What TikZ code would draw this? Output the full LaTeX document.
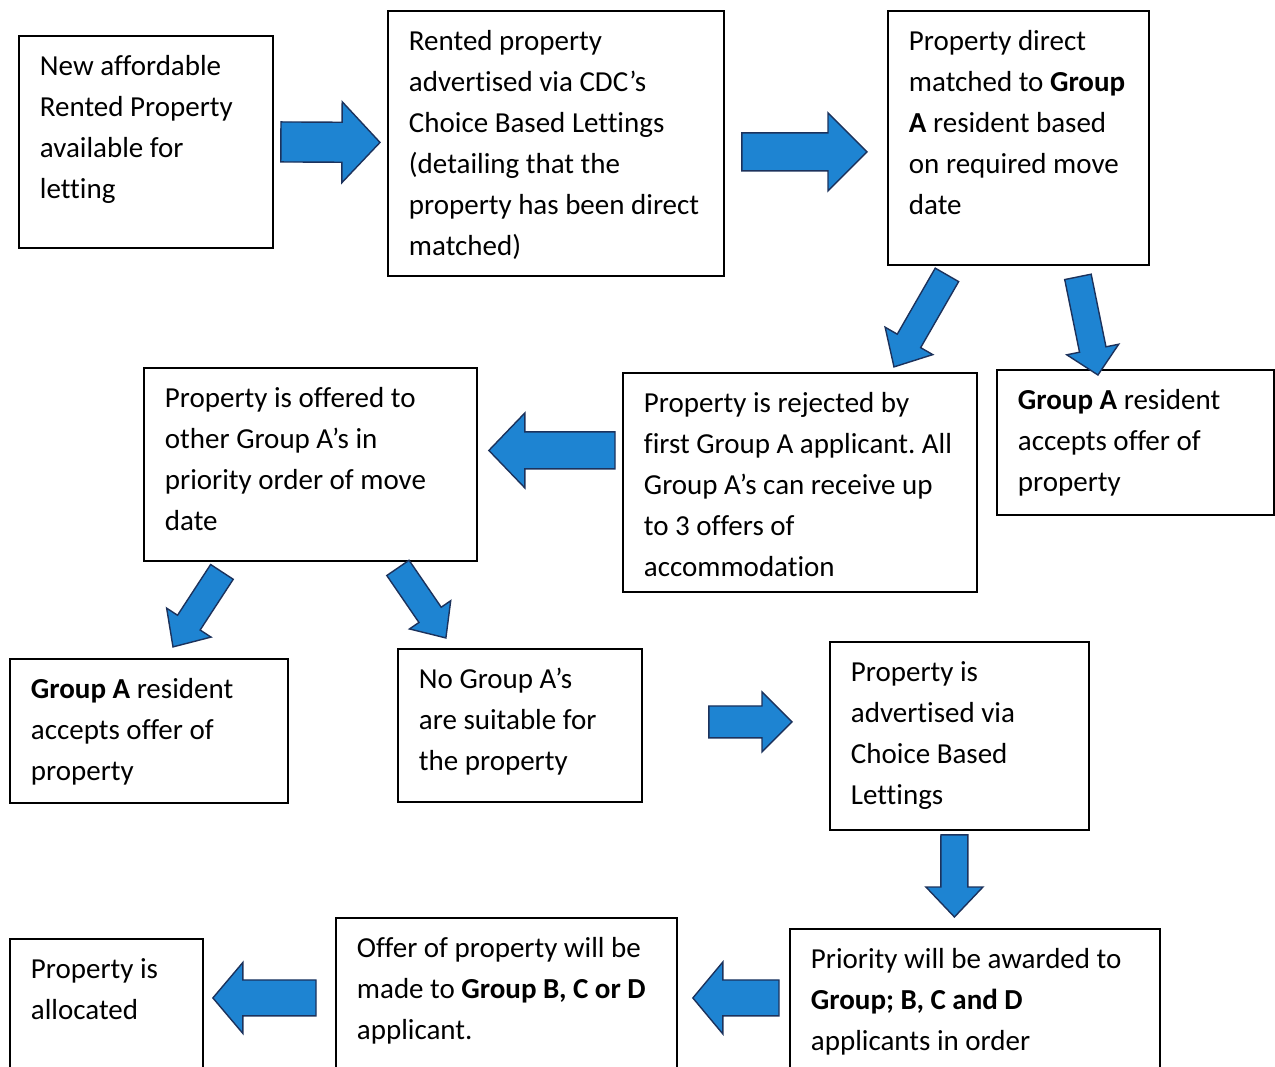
\documentclass[tikz,border=0pt]{standalone}
\usepackage{fontspec}
\setmainfont{Carlito}[Ligatures=CommonOff]
\usepackage{xcolor}
\usetikzlibrary{calc}

\definecolor{arrowblue}{RGB}{30,132,210}
\definecolor{arrowedge}{RGB}{28,50,92}

\tikzset{
  stepbox/.style={draw=black, line width=1.1pt, fill=white, anchor=north west, inner sep=0pt},
  flowarrow/.style={fill=arrowblue, draw=arrowedge, line width=0.8pt, line join=miter}
}

% text of a box: width, height, lines
\newcommand{\boxlines}[3]{\parbox[c][#2][t]{#1}{\raggedright\frenchspacing\leftskip=0.42cm\rule{0pt}{22.6pt}#3}}

% block arrow: tail, tip, shaft width, head width, head length (px)
\newcommand{\blockarrow}[5]{%
  \draw[flowarrow] let \p1=(#1), \p2=(#2),
      \n1={atan2(\y2-\y1,\x2-\x1)},
      \n2={veclen(\x2-\x1,\y2-\y1)} in
    [shift={(\p1)}, rotate=\n1]
    (0pt,{#3*0.28453pt}) -- ({\n2-#5*0.56906pt},{#3*0.28453pt})
    -- ({\n2-#5*0.56906pt},{#4*0.28453pt}) -- (\n2,0pt)
    -- ({\n2-#5*0.56906pt},{-#4*0.28453pt}) -- ({\n2-#5*0.56906pt},{-#3*0.28453pt})
    -- (0pt,{-#3*0.28453pt}) -- cycle;
}

\begin{document}
\begin{tikzpicture}[x=0.02cm, y=-0.02cm, font=\fontsize{16.5}{23.3}\selectfont]
  \clip (0,0) rectangle (1275,1067);

  \node[stepbox] (new) at (18,35) {\boxlines{5.08cm}{4.24cm}{New affordable\\ Rented Property\\ available for\\ letting}};
  \node[stepbox] (advert) at (387,10) {\boxlines{6.72cm}{5.3cm}{Rented property\\ advertised via CDC’s\\ Choice Based Lettings\\ (detailing that the\\ property has been direct\\ matched)}};
  \node[stepbox] (direct) at (887,10) {\boxlines{5.22cm}{5.08cm}{Property direct\\ matched to \textbf{Group}\\ \textbf{A} resident based\\ on required move\\ date}};
  \node[stepbox] (offered) at (143,367) {\boxlines{6.66cm}{3.86cm}{Property is offered to\\ other Group A’s in\\ priority order of move\\ date}};
  \node[stepbox] (rejected) at (622,372) {\boxlines{7.08cm}{4.38cm}{Property is rejected by\\ first Group A applicant. All\\ Group A’s can receive up\\ to 3 offers of\\ accommodation}};
  \node[stepbox] (acceptA) at (996,369) {\boxlines{5.54cm}{2.9cm}{\textbf{Group A} resident\\ accepts offer of\\ property}};
  \node[stepbox] (acceptB) at (9,658) {\boxlines{5.56cm}{2.88cm}{\textbf{Group A} resident\\ accepts offer of\\ property}};
  \node[stepbox] (nosuit) at (397,648) {\boxlines{4.88cm}{3.06cm}{No Group A’s\\ are suitable for\\ the property}};
  \node[stepbox] (cbl) at (829,641) {\boxlines{5.18cm}{3.76cm}{Property is\\ advertised via\\ Choice Based\\ Lettings}};
  \node[stepbox] (alloc) at (9,938) {\boxlines{3.86cm}{3.2cm}{Property is\\ allocated}};
  \node[stepbox] (offer) at (335,917) {\boxlines{6.82cm}{3.6cm}{Offer of property will be\\ made to \textbf{Group B, C or D}\\ applicant.}};
  \node[stepbox] (priority) at (789,928) {\boxlines{7.4cm}{3.4cm}{Priority will be awarded to\\ \textbf{Group; B, C and D}\\ applicants in order}};

  \blockarrow{$(new.east)+(7,0)$}{$(advert.west)+(-7,-1)$}{40}{81}{38}
  \blockarrow{$(advert.east)+(17,8.5)$}{$(direct.west)+(-20,14)$}{38}{78}{39}
  \blockarrow{$(direct.south)+(-71.5,9)$}{$(rejected.north)+(94,-5)$}{27}{55}{30}
  \blockarrow{$(direct.south)+(59.5,11)$}{$(acceptA.north)+(-37.5,6)$}{27}{53}{26}
  \blockarrow{$(rejected.west)+(-7,-32)$}{$(offered.east)+(11,-14)$}{37}{75}{36}
  \blockarrow{$(offered.south)+(-88.5,10)$}{$(acceptB.north)+(24,-11)$}{27}{53}{29}
  \blockarrow{$(offered.south)+(87.5,6)$}{$(nosuit.north)+(-74,-10)$}{27}{50}{28}
  \blockarrow{$(nosuit.east)+(66,-3.5)$}{$(cbl.west)+(-37,-14)$}{32}{60}{30}
  \blockarrow{$(cbl.south)+(-5,4)$}{$(priority.north)+(-20.5,-11)$}{27}{57}{30}
  \blockarrow{$(priority.west)+(-10,-16)$}{$(offer.east)+(15,-10)$}{36}{72}{30}
  \blockarrow{$(offer.west)+(-19,-10)$}{$(alloc.east)+(9,-21)$}{36}{71}{30}
\end{tikzpicture}
\end{document}
